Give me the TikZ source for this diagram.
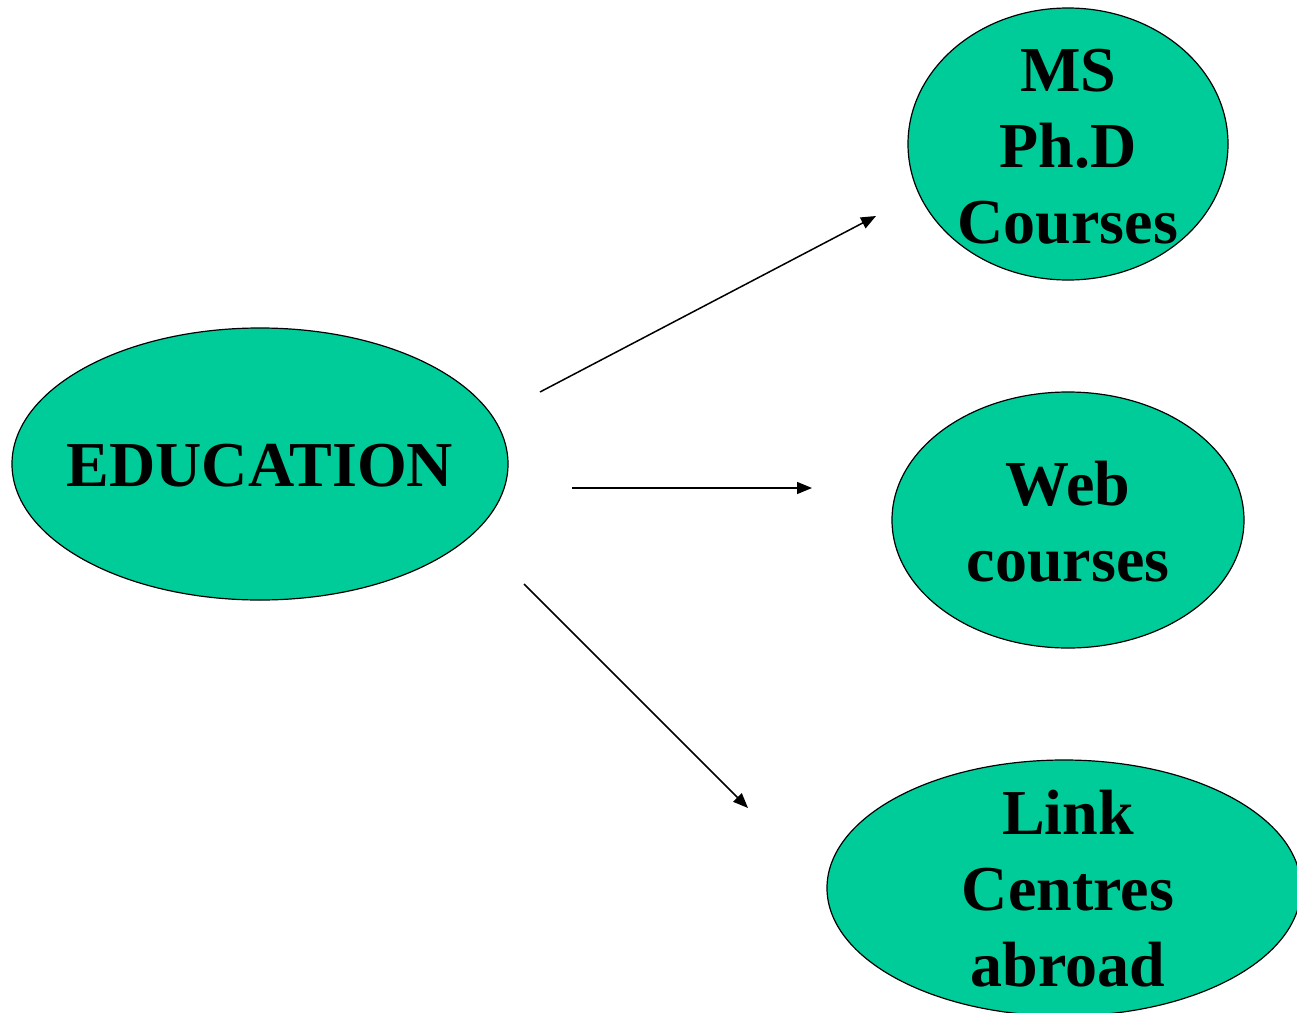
\documentclass[tikz,border=0pt]{standalone}
\usepackage{fontspec}
\setmainfont{Liberation Serif}
\usetikzlibrary{shapes.geometric,arrows.meta}
\definecolor{oval}{RGB}{0,204,153}
\begin{document}
\begin{tikzpicture}[x=1bp,y=-1bp,
  oval/.style={ellipse,draw=black,line width=1.2bp,fill=oval,inner sep=0pt},
  lbl/.style={inner sep=0pt,align=center,font=\fontsize{64bp}{76bp}\selectfont\bfseries},
  link/.style={line width=1.5bp,-{Triangle[length=15bp,width=12bp]}}]
\useasboundingbox (0,0) rectangle (1297,1013);
\node[oval,minimum width=496bp,minimum height=272bp] (edu) at (260,464) {};
\node[oval,minimum width=320bp,minimum height=272bp] (ms) at (1068,144) {};
\node[oval,minimum width=352bp,minimum height=256bp] (web) at (1068,520) {};
\node[oval,minimum width=474bp,minimum height=256bp] (lnk) at (1064,888) {};
\node[lbl] (edut) at (260,466) {EDUCATION};
\node[lbl] (mst) at (1068,147) {MS\\Ph.D\\Courses};
\node[lbl] (webt) at (1068,522) {Web\\courses};
\node[lbl] (lnkt) at (1068,889) {Link\\Centres\\abroad};
\coordinate (a1) at (540,392);
\coordinate (b1) at (876,216);
\coordinate (a2) at (572,488);
\coordinate (b2) at (812,488);
\coordinate (a3) at (524,584);
\coordinate (b3) at (748,808);
\draw[link] (a1) -- (b1);
\draw[link] (a2) -- (b2);
\draw[link] (a3) -- (b3);
\end{tikzpicture}
\end{document}
